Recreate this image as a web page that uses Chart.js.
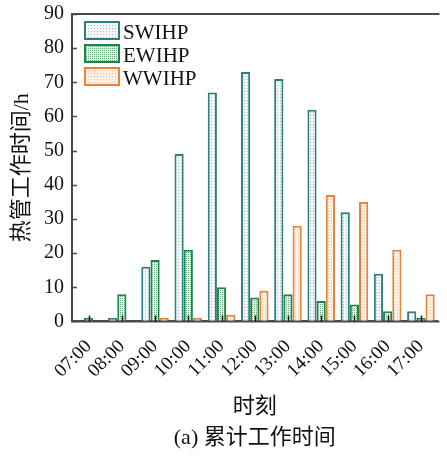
<!DOCTYPE html>
<html>
<head>
<meta charset="utf-8">
<script src="https://cdn.jsdelivr.net/npm/chart.js@4"></script>
<style>
  html, body { margin: 0; padding: 0; overflow: hidden; background: #fff; }
  #wrap { width: 451px; height: 457px; }
</style>
</head>
<body>
<div id="wrap"><canvas id="c"></canvas></div>
<script>
// Hourly cumulative heat-pipe working time (h)
const hours = ['07:00', '08:00', '09:00', '10:00', '11:00', '12:00', '13:00', '14:00', '15:00', '16:00', '17:00'];
const swihp = [0, 1, 16, 49, 67, 73, 71, 62, 32, 14, 3];
const ewihp = [1, 8, 18, 21, 10, 7, 8, 6, 5, 3, 1];
const wwihp = [0, 0, 1, 1, 2, 9, 28, 37, 35, 21, 8];
const seriesNames = ['SWIHP', 'EWIHP', 'WWIHP'];
const yMin = 0, yMax = 90, yStep = 10;

const SERIF = '"Liberation Serif", "Noto Sans CJK SC", serif';
const AXIS = '#4a4a4a';

const canvas = document.getElementById('c');
const ctx0 = canvas.getContext('2d');

// small dotted tiles used as bar fills
function dotPattern(bg, dot, size, dots) {
  const t = document.createElement('canvas');
  t.width = t.height = size;
  const g = t.getContext('2d');
  g.fillStyle = bg;
  g.fillRect(0, 0, size, size);
  g.fillStyle = dot;
  dots.forEach(([x, y]) => g.fillRect(x, y, 1, 1));
  return ctx0.createPattern(t, 'repeat');
}

const fills = [
  dotPattern('#f4f7f7', '#aebfbf', 3, [[1, 1]]),
  dotPattern('#e8f2e9', '#67a577', 2, [[0, 0]]),
  dotPattern('#fdf1e6', '#ecc29d', 3, [[1, 1]])
];
const edges = ['#2b7f80', '#1f8448', '#e8833a'];

// frame, inward tick marks and inset legend
const framePlugin = {
  id: 'frame',
  afterDatasetsDraw(chart) {
    const { ctx, chartArea: a, scales } = chart;
    ctx.save();
    ctx.strokeStyle = AXIS;
    ctx.lineWidth = 2;
    ctx.beginPath();
    ctx.moveTo(a.right + 2, a.top);
    ctx.lineTo(a.left, a.top);
    ctx.lineTo(a.left, a.bottom);
    ctx.lineTo(a.right + 2, a.bottom);
    ctx.stroke();
    ctx.lineWidth = 1.5;
    ctx.beginPath();
    scales.y.ticks.forEach(t => {
      const y = Math.round(scales.y.getPixelForValue(t.value)) + 0.5;
      ctx.moveTo(a.left, y);
      ctx.lineTo(a.left + 5, y);
    });
    ctx.stroke();
    ctx.strokeStyle = '#111';
    ctx.beginPath();
    hours.forEach((h, i) => {
      const x = Math.round(scales.x.getPixelForValue(i)) + 0.5;
      ctx.moveTo(x, a.bottom);
      ctx.lineTo(x, a.bottom - 6);
    });
    ctx.stroke();
    ctx.restore();
  },
  afterDraw(chart) {
    const { ctx, chartArea: a } = chart;
    const x0 = a.left + 12, y0 = a.top + 7;
    chart.data.datasets.forEach((ds, i) => {
      const y = y0 + i * 23;
      ctx.save();
      ctx.fillStyle = ds.backgroundColor;
      ctx.fillRect(x0, y, 36, 19);
      ctx.lineWidth = 2;
      ctx.strokeStyle = ds.borderColor;
      ctx.strokeRect(x0 + 1, y + 1, 34, 17);
      ctx.fillStyle = '#111';
      ctx.font = '21px ' + SERIF;
      ctx.textBaseline = 'middle';
      ctx.fillText(ds.label, x0 + 39, y + 12);
      ctx.restore();
    });
  }
};

new Chart(canvas, {
  type: 'bar',
  data: {
    labels: hours,
    datasets: [swihp, ewihp, wwihp].map((vals, i) => ({
      label: seriesNames[i],
      data: vals,
      backgroundColor: fills[i],
      borderColor: edges[i],
      borderWidth: 2,
      borderSkipped: 'start',
      barPercentage: 1,
      categoryPercentage: 0.83
    }))
  },
  options: {
    responsive: true,
    maintainAspectRatio: false,
    animation: false,
    devicePixelRatio: 1,
    layout: { padding: { top: 11, right: 0, bottom: 0, left: 0 } },
    plugins: {
      legend: { display: false },
      tooltip: { enabled: false },
      title: {
        display: true,
        position: 'bottom',
        fullSize: false,
        text: '(a) 累计工作时间',
        color: '#111',
        font: { family: SERIF, size: 22, weight: 'normal' },
        padding: { top: 0, bottom: 6 }
      }
    },
    scales: {
      x: {
        grid: { display: false, drawTicks: false },
        border: { display: true, color: AXIS, width: 2 },
        ticks: {
          color: '#111',
          font: { family: SERIF, size: 19 },
          maxRotation: 45,
          minRotation: 45,
          padding: 14,
          autoSkip: false
        },
        title: {
          display: true,
          text: '时刻',
          color: '#111',
          font: { family: SERIF, size: 22 },
          padding: { top: -2.4, bottom: 4.4 }
        }
      },
      y: {
        min: yMin,
        max: yMax,
        grid: { display: false, drawTicks: false },
        border: { display: true, color: AXIS, width: 2 },
        ticks: {
          stepSize: yStep,
          color: '#111',
          font: { family: SERIF, size: 20, lineHeight: 0.6 },
          padding: 8
        },
        title: {
          display: true,
          text: '热管工作时间/h',
          color: '#111',
          font: { family: SERIF, size: 22 },
          padding: { top: 9, bottom: 0.6 }
        }
      }
    }
  },
  plugins: [framePlugin]
});
</script>
</body>
</html>
